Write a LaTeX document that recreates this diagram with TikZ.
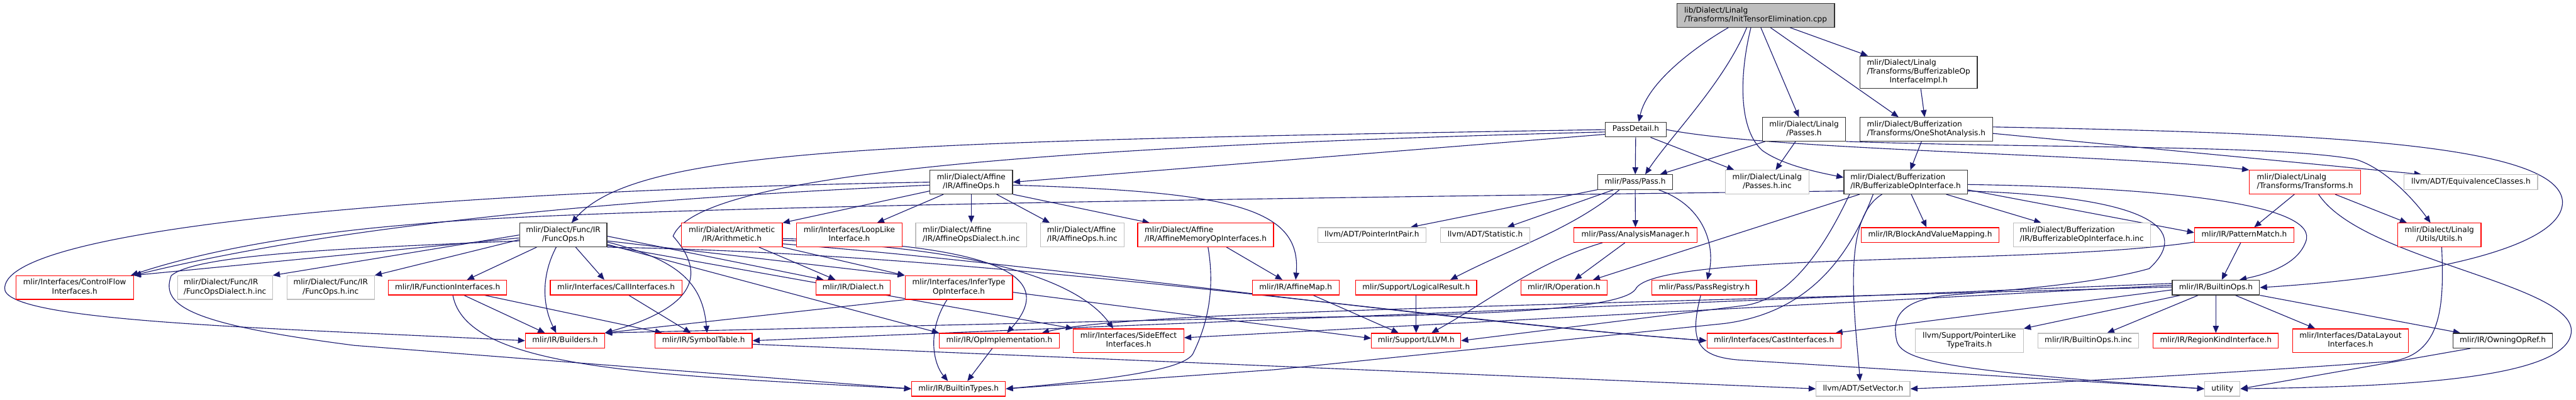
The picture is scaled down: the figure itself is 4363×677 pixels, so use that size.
\documentclass[tikz,border=0pt]{standalone}
\usepackage{fontspec}
\setmainfont{DejaVu Sans}
\usetikzlibrary{arrows.meta}
\definecolor{edgeblue}{HTML}{191970}
\definecolor{docline}{HTML}{333333}
\definecolor{sysline}{HTML}{BFBFBF}
\definecolor{cutline}{HTML}{FF0000}
\pgfdeclarelayer{edges}
\pgfsetlayers{edges,main}
\newcommand{\fone}[1]{\begin{tabular}{@{}c@{}}#1\end{tabular}}
\newcommand{\ftwo}[2]{\begin{tabular}{@{}l@{}}#1\\\multicolumn{1}{@{}c@{}}{#2}\end{tabular}}
\newcommand{\fthree}[3]{\begin{tabular}{@{}l@{}}#1\\#2\\\multicolumn{1}{@{}c@{}}{#3}\end{tabular}}

\begin{document}
\begin{tikzpicture}[x=1pt,y=-1pt,font=\fontsize{12.9}{15}\selectfont,
  file/.style={draw,fill=white,line width=1.3pt,inner xsep=4pt,inner ysep=5pt},
  docfile/.style={file,draw=docline},
  cutfile/.style={file,draw=cutline},
  sysfile/.style={file,draw=sysline},
  srcfile/.style={file,draw=docline,fill=sysline},
  inc/.style={edgeblue,line width=1.2pt,-{Triangle[length=12pt,width=10pt]}}]
  \useasboundingbox (0,0) rectangle (4363,677);

  \node[srcfile,minimum width=267pt] (root) at (2973.5,26)
    {\ftwo{lib/Dialect/Linalg}{/Transforms/InitTensorElimination.cpp}};
  \node[docfile,minimum width=199pt] (bopimpl) at (3249.5,122.5)
    {\fthree{mlir/Dialect/Linalg}{/Transforms/BufferizableOp}{InterfaceImpl.h}};

  \node[docfile,minimum width=103pt] (passdetail) at (2770.5,219.5) {\fone{PassDetail.h}};
  \node[docfile,minimum width=141pt] (linalgpasses) at (3055.5,219)
    {\ftwo{mlir/Dialect/Linalg}{/Passes.h}};
  \node[docfile,minimum width=225pt] (oneshot) at (3262.5,219)
    {\ftwo{mlir/Dialect/Bufferization}{/Transforms/OneShotAnalysis.h}};

  \node[docfile,minimum width=140pt] (affineops) at (1645,308.5)
    {\ftwo{mlir/Dialect/Affine}{/IR/AffineOps.h}};
  \node[docfile,minimum width=127pt] (passh) at (2769.5,308.5) {\fone{mlir/Pass/Pass.h}};
  \node[sysfile,minimum width=142pt] (passesinc) at (2993,308.5)
    {\ftwo{mlir/Dialect/Linalg}{/Passes.h.inc}};
  \node[docfile,minimum width=209pt] (bopi) at (3227.5,308.5)
    {\ftwo{mlir/Dialect/Bufferization}{/IR/BufferizableOpInterface.h}};
  \node[cutfile,minimum width=188pt] (transforms) at (3904,308.5)
    {\ftwo{mlir/Dialect/Linalg}{/Transforms/Transforms.h}};
  \node[sysfile,minimum width=226pt] (equiv) at (4185,308.5) {\fone{llvm/ADT/EquivalenceClasses.h}};

  \node[docfile,minimum width=148pt] (funcops) at (954,398)
    {\ftwo{mlir/Dialect/Func/IR}{/FuncOps.h}};
  \node[cutfile,minimum width=171pt] (arith) at (1239.5,398)
    {\ftwo{mlir/Dialect/Arithmetic}{/IR/Arithmetic.h}};
  \node[cutfile,minimum width=179pt] (looplike) at (1438.5,398)
    {\ftwo{mlir/Interfaces/LoopLike}{Interface.h}};
  \node[sysfile,minimum width=188pt] (affdialinc) at (1645,398)
    {\ftwo{mlir/Dialect/Affine}{/IR/AffineOpsDialect.h.inc}};
  \node[sysfile,minimum width=142pt] (affinc) at (1833,398)
    {\ftwo{mlir/Dialect/Affine}{/IR/AffineOps.h.inc}};
  \node[cutfile,minimum width=230pt] (affmem) at (2042,398)
    {\ftwo{mlir/Dialect/Affine}{/IR/AffineMemoryOpInterfaces.h}};
  \node[sysfile,minimum width=183pt] (ptrint) at (2323.5,398) {\fone{llvm/ADT/PointerIntPair.h}};
  \node[sysfile,minimum width=151pt] (statistic) at (2515.5,398) {\fone{llvm/ADT/Statistic.h}};
  \node[cutfile,minimum width=208pt] (anman) at (2770,398) {\fone{mlir/Pass/AnalysisManager.h}};
  \node[cutfile,minimum width=234pt] (bvmap) at (3269,398) {\fone{mlir/IR/BlockAndValueMapping.h}};
  \node[sysfile,minimum width=232pt] (bopiinc) at (3526,398)
    {\ftwo{mlir/Dialect/Bufferization}{/IR/BufferizableOpInterface.h.inc}};
  \node[cutfile,minimum width=168pt] (patmatch) at (3801,398) {\fone{mlir/IR/PatternMatch.h}};
  \node[cutfile,minimum width=141pt] (utils) at (4131.5,398)
    {\ftwo{mlir/Dialect/Linalg}{/Utils/Utils.h}};

  \node[cutfile,minimum width=199pt] (cflow) at (126.5,487)
    {\ftwo{mlir/Interfaces/ControlFlow}{Interfaces.h}};
  \node[sysfile,minimum width=161pt] (funcdialinc) at (381,487)
    {\ftwo{mlir/Dialect/Func/IR}{/FuncOpsDialect.h.inc}};
  \node[sysfile,minimum width=148pt] (funcinc) at (560,487)
    {\ftwo{mlir/Dialect/Func/IR}{/FuncOps.h.inc}};
  \node[cutfile,minimum width=200pt] (funciface) at (758,487) {\fone{mlir/IR/FunctionInterfaces.h}};
  \node[cutfile,minimum width=223pt] (calliface) at (1043.5,487) {\fone{mlir/Interfaces/CallInterfaces.h}};
  \node[cutfile,minimum width=126pt] (dialect) at (1445,487) {\fone{mlir/IR/Dialect.h}};
  \node[cutfile,minimum width=182pt] (infertype) at (1624,487)
    {\ftwo{mlir/Interfaces/InferType}{OpInterface.h}};
  \node[cutfile,minimum width=147pt] (affinemap) at (2194.5,487) {\fone{mlir/IR/AffineMap.h}};
  \node[cutfile,minimum width=205pt] (logres) at (2398.5,487) {\fone{mlir/Support/LogicalResult.h}};
  \node[cutfile,minimum width=146pt] (operation) at (2649,487) {\fone{mlir/IR/Operation.h}};
  \node[cutfile,minimum width=177pt] (passreg) at (2886.5,487) {\fone{mlir/Pass/PassRegistry.h}};
  \node[docfile,minimum width=148pt] (builtinops) at (3753,487) {\fone{mlir/IR/BuiltinOps.h}};

  \node[cutfile,minimum width=134pt] (builders) at (957,577) {\fone{mlir/IR/Builders.h}};
  \node[cutfile,minimum width=165pt] (symtab) at (1191.5,577) {\fone{mlir/IR/SymbolTable.h}};
  \node[cutfile,minimum width=203pt] (opimpl) at (1692.5,577) {\fone{mlir/IR/OpImplementation.h}};
  \node[cutfile,minimum width=187pt] (sideeff) at (1911.5,577)
    {\ftwo{mlir/Interfaces/SideEffect}{Interfaces.h}};
  \node[cutfile,minimum width=151pt] (llvmh) at (2398.5,577) {\fone{mlir/Support/LLVM.h}};
  \node[cutfile,minimum width=227pt] (castiface) at (3004.5,577) {\fone{mlir/Interfaces/CastInterfaces.h}};
  \node[sysfile,minimum width=183pt] (ptrlike) at (3335.5,577)
    {\ftwo{llvm/Support/PointerLike}{TypeTraits.h}};
  \node[sysfile,minimum width=171pt] (builtinopsinc) at (3537,577) {\fone{mlir/IR/BuiltinOps.h.inc}};
  \node[cutfile,minimum width=212pt] (regionkind) at (3753,577) {\fone{mlir/IR/RegionKindInterface.h}};
  \node[cutfile,minimum width=196pt] (datalayout) at (3981,577)
    {\ftwo{mlir/Interfaces/DataLayout}{Interfaces.h}};
  \node[docfile,minimum width=168pt] (owning) at (4239,577) {\fone{mlir/IR/OwningOpRef.h}};

  \node[cutfile,minimum width=159pt] (builtintypes) at (1623.5,658.5) {\fone{mlir/IR/BuiltinTypes.h}};
  \node[sysfile,minimum width=159pt] (setvector) at (3155.5,658.5) {\fone{llvm/ADT/SetVector.h}};
  \node[sysfile,minimum width=60pt] (utility) at (3764,658.5) {\fone{utility}};

  \begin{pgfonlayer}{edges}
  \draw[inc] ([xshift=-46pt]root.south) .. controls (2870,80) and (2790,140) .. ([xshift=5pt]passdetail.north);
  \draw[inc] ([xshift=-15pt]root.south) .. controls (2920,140) and (2830,230) .. ([xshift=17pt]passh.north);
  \draw[inc] ([xshift=-8pt]root.south) .. controls (2945,130) and (2945,220) .. (2985,255)
    .. controls (3020,280) and (3080,292) .. ([yshift=8pt]bopi.west);
  \draw[inc] (root) -- (linalgpasses);
  \draw[inc] ([xshift=25pt]root.south) -- ([xshift=-47pt]oneshot.north);
  \draw[inc] ([xshift=58pt]root.south) -- ([xshift=-86pt]bopimpl.north);
  \draw[inc] (bopimpl) -- (oneshot);

  \draw[inc] (passdetail) -- (passh);
  \draw[inc] (passdetail.west) .. controls (1500,240) and (1080,250) .. ([xshift=14pt]funcops.north);
  \draw[inc] ([yshift=-4pt]passdetail.west) .. controls (1700,250) and (1180,300) .. (1140,400)
    .. controls (1175,440) and (1215,510) .. (builders.north east);
  \draw[inc] ([yshift=-8pt]passdetail.west) -- (affineops.east);
  \draw[inc] ([xshift=25pt]passdetail.south) -- ([xshift=-56pt]passesinc.north);
  \draw[inc] (passdetail.east) .. controls (3000,255) and (3600,262) .. (transforms.north west);

  \draw[inc] (linalgpasses) -- (passh);
  \draw[inc] (linalgpasses) -- (passesinc);
  \draw[inc] (linalgpasses.south east) .. controls (3500,252) and (3850,245) .. (3990,270)
    .. controls (4040,285) and (4090,340) .. ([xshift=-15pt]utils.north);

  \draw[inc] (oneshot) -- (bopi);
  \draw[inc] ([yshift=-7pt]oneshot.east) -- ([xshift=-84pt]equiv.north);
  \draw[inc] ([yshift=4pt]oneshot.east) .. controls (3900,225) and (4330,240) .. (4340,340)
    .. controls (4345,420) and (4100,470) .. (builtinops.east);

  \draw[inc] (bopi) -- (bvmap);
  \draw[inc] (bopi) -- (bopiinc);
  \draw[inc] ([yshift=-13pt]bopi.east) -- ([yshift=4pt]patmatch.west);
  \draw[inc] ([yshift=-4pt]bopi.east) .. controls (3700,318) and (3930,350) .. (3905,410)
    .. controls (3890,450) and (3835,465) .. ([xshift=40pt]builtinops.north);
  \draw[inc] ([xshift=-78pt]bopi.south) -- ([xshift=49pt]operation.north);
  \draw[inc] ([xshift=-40pt]bopi.south) .. controls (3120,370) and (3140,520) .. ([xshift=-5pt]setvector.north);
  \draw[inc] ([xshift=-95pt]bopi.south) .. controls (3090,420) and (3030,510) .. (2950,518) -- (llvmh.east);
  \draw[inc] ([xshift=-55pt]bopi.south) .. controls (3130,440) and (3060,530) .. (2920,548)
    -- (2160,626) -- (builtintypes.east);
  \draw[inc] ([yshift=-15pt]bopi.west) .. controls (2200,335) and (1000,350) .. (700,380)
    .. controls (450,400) and (300,440) .. ([xshift=-5pt]cflow.north east);
  \draw[inc] ([yshift=-15pt]bopi.east) .. controls (3680,335) and (3700,400) .. (3640,455)
    .. controls (3550,480) and (3420,490) .. (3300,500)
    .. controls (3215,508) and (3205,540) .. (3212,575)
    .. controls (3218,612) and (3300,628) .. (utility.west);

  \draw[inc] ([xshift=-18pt]transforms.south) -- ([xshift=17pt]patmatch.north);
  \draw[inc] ([xshift=51pt]transforms.south) -- ([xshift=-55pt]utils.north);
  \draw[inc] ([xshift=23pt]transforms.south) .. controls (4000,440) and (4355,480) .. (4355,560)
    .. controls (4355,650) and (4000,655) .. (utility.east);

  \draw[inc] ([xshift=-6pt]patmatch.south) -- ([xshift=10pt]builtinops.north);
  \draw[inc] ([yshift=-12pt]patmatch.west) .. controls (3450,450) and (2800,425) .. (2770,490)
    .. controls (2745,525) and (2500,535) .. (2150,538) -- (builders.north east);

  \draw[inc] (affineops.west) .. controls (800,322) and (15,380) .. (8,487)
    .. controls (0,545) and (450,555) .. (builders.west);
  \draw[inc] ([yshift=-5pt]affineops.west) .. controls (1100,335) and (600,375) .. (cflow.north east);
  \draw[inc] ([yshift=-15pt]affineops.west) -- (arith.north east);
  \draw[inc] ([xshift=-47pt]affineops.south) -- ([xshift=47pt]looplike.north);
  \draw[inc] (affineops) -- (affdialinc);
  \draw[inc] ([xshift=43pt]affineops.south) -- ([xshift=-55pt]affinc.north);
  \draw[inc] (affineops.south east) -- ([xshift=-95pt]affmem.north);
  \draw[inc] ([yshift=-5pt]affineops.east) .. controls (2080,325) and (2205,350) .. (affinemap.north);

  \draw[inc] (passh) -- (ptrint);
  \draw[inc] (passh) -- (statistic);
  \draw[inc] (passh) -- (anman);
  \draw[inc] ([xshift=40pt]passh.south) .. controls (2890,350) and (2905,420) .. ([xshift=5pt]passreg.north);
  \draw[inc] ([xshift=-27pt]passh.south) .. controls (2660,390) and (2560,420) .. ([xshift=58pt]logres.north);

  \draw[inc] ([yshift=-5pt]funcops.west) -- (cflow.north east);
  \draw[inc] (funcops.west) -- (funcdialinc.north east);
  \draw[inc] ([yshift=-8pt]funcops.west) -- (funcinc.north east);
  \draw[inc] ([yshift=-10pt]funcops.west) .. controls (600,420) and (330,430) .. (290,467)
    .. controls (270,520) and (330,550) .. (600,585) -- (builtintypes.west);
  \draw[inc] ([xshift=-45pt]funcops.south) -- ([xshift=33pt]funciface.north);
  \draw[inc] ([xshift=-12pt]funcops.south) .. controls (915,470) and (920,520) .. ([xshift=-15pt]builders.north);
  \draw[inc] ([xshift=21pt]funcops.south) -- ([xshift=-20pt]calliface.north);
  \draw[inc] ([yshift=-12pt]funcops.east) .. controls (1150,440) and (1190,480) .. ([xshift=6pt]symtab.north);
  \draw[inc] ([yshift=-2pt]funcops.east) -- ([xshift=-50pt]dialect.north);
  \draw[inc] ([yshift=-10pt]funcops.east) -- (infertype.north west);
  \draw[inc] ([yshift=-16pt]funcops.east) -- (opimpl.north west);
  \draw[inc] ([yshift=-18pt]funcops.east) -- (sideeff.north west);
  \draw[inc] (funcops.south east) .. controls (1700,430) and (2400,540) .. (castiface.west);

  \draw[inc] ([xshift=46pt]arith.south) -- ([xshift=-30pt]dialect.north);
  \draw[inc] (arith.south east) -- (infertype.north west);
  \draw[inc] ([yshift=-6pt]arith.east) .. controls (1700,415) and (1790,470) .. ([xshift=13pt]opimpl.north);
  \draw[inc] ([yshift=-9pt]arith.east) .. controls (1680,420) and (1830,480) .. ([xshift=-26pt]sideeff.north);
  \draw[inc] ([yshift=-15pt]arith.east) .. controls (1800,450) and (2400,540) .. (castiface.west);

  \draw[inc] (affmem) -- (affinemap);
  \draw[inc] ([xshift=4pt]affmem.south) .. controls (2060,500) and (2040,560) .. (2020,600)
    .. controls (2000,630) and (1850,645) .. (builtintypes.east);

  \draw[inc] ([xshift=28pt]funciface.south) -- ([xshift=-34pt]builders.north);
  \draw[inc] ([xshift=63pt]funciface.south) -- ([xshift=-70pt]symtab.north);
  \draw[inc] ([xshift=9pt]funciface.south) .. controls (790,625) and (1100,635) .. (builtintypes.west);
  \draw[inc] (calliface) -- (symtab);

  \draw[inc] ([xshift=-20pt]infertype.south) .. controls (1570,560) and (1580,615) .. ([xshift=-18pt]builtintypes.north);
  \draw[inc] (infertype.south west) -- (builders.north east);
  \draw[inc] ([yshift=-8pt]infertype.east) -- ([yshift=4pt]llvmh.west);
  \draw[inc] ([xshift=-12pt]opimpl.south) -- ([xshift=15pt]builtintypes.north);
  \draw[inc] ([yshift=-6pt]symtab.east) -- (setvector.west);

  \draw[inc] (anman) -- (operation);
  \draw[inc] ([xshift=-56pt]anman.south) .. controls (2600,445) and (2530,505) .. ([xshift=26pt]llvmh.north);
  \draw[inc] (logres) -- (llvmh);
  \draw[inc] (affinemap) -- (llvmh);
  \draw[inc] ([xshift=-6pt]passreg.south) .. controls (2860,580) and (2875,605) .. (2950,610) -- (utility.west);

  \draw[inc] ([yshift=7pt]builtinops.west) -- (symtab.east);
  \draw[inc] ([yshift=4pt]builtinops.west) -- ([yshift=5pt]sideeff.east);
  \draw[inc] ([yshift=1pt]builtinops.west) .. controls (2500,520) and (1900,530) .. ([xshift=-30pt]opimpl.north east);
  \draw[inc] ([yshift=-4pt]builtinops.west) -- ([xshift=-10pt]castiface.north east);
  \draw[inc] ([xshift=-60pt]builtinops.south) -- (ptrlike.north east);
  \draw[inc] ([xshift=-30pt]builtinops.south) -- ([xshift=32pt]builtinopsinc.north);
  \draw[inc] (builtinops) -- (regionkind);
  \draw[inc] ([xshift=33pt]builtinops.south) -- ([xshift=-60pt]datalayout.north);
  \draw[inc] (builtinops.south east) -- ([xshift=-72pt]owning.north);
  \draw[inc] ([xshift=-55pt]owning.south) -- (utility.east);

  \draw[inc] ([xshift=4pt]utils.south) .. controls (4140,520) and (4135,600) .. (4050,612)
    .. controls (3800,630) and (3500,648) .. (setvector.east);
  \end{pgfonlayer}
\end{tikzpicture}
\end{document}
